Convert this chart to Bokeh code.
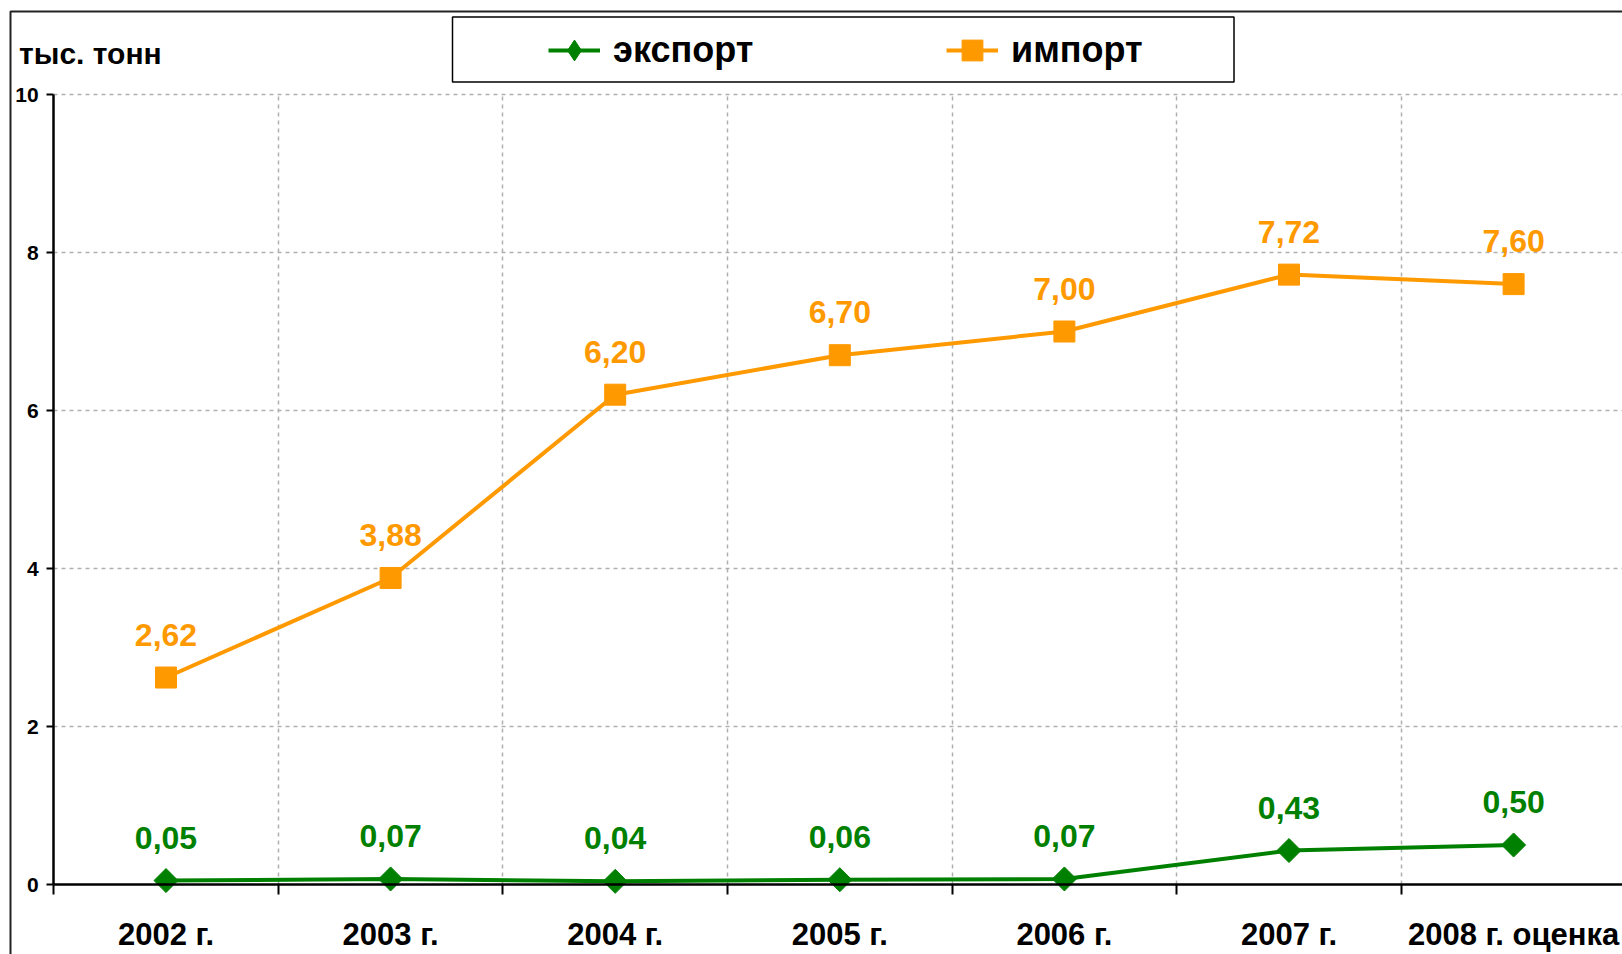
from bokeh.plotting import figure
from bokeh.models import (ColumnDataSource, FixedTicker, Legend, LegendItem,
                          BoxAnnotation, Label)
from bokeh.core.properties import value
from bokeh.embed import file_html
from bokeh.resources import INLINE

categories = ["2002 г.", "2003 г.", "2004 г.", "2005 г.", "2006 г.", "2007 г.", "2008 г. оценка"]
export_vals = [0.05, 0.07, 0.04, 0.06, 0.07, 0.43, 0.50]
import_vals = [2.62, 3.88, 6.20, 6.70, 7.00, 7.72, 7.60]
y_ticks = [0, 2, 4, 6, 8, 10]
series_names = ["экспорт", "импорт"]
y_title = "тыс. тонн"

GREEN = "#008000"
ORANGE = "#FF9900"
FONT = "Liberation Sans"

W, H = 1622, 954
CAT_PX = 224.6          # pixels per category
Y_PX = 79.0             # pixels per unit on y
XS = -0.5 - 53.2 / CAT_PX
YE = 10 + 94 / Y_PX
def xd(px): return XS + px / CAT_PX
def yd(py): return YE - py / Y_PX

xs = list(range(len(categories)))
fmt = lambda v: f"{v:.2f}".replace(".", ",")

src_e = ColumnDataSource(dict(x=xs, y=export_vals, t=[fmt(v) for v in export_vals]))
src_i = ColumnDataSource(dict(x=xs, y=import_vals, t=[fmt(v) for v in import_vals]))

p = figure(width=W, height=H, output_backend="svg", toolbar_location=None,
           x_range=(XS, xd(W)), y_range=(yd(H), YE),
           min_border_left=0, min_border_right=0, min_border_top=0,
           min_border_bottom=0)
p.outline_line_color = None
p.background_fill_color = "white"
p.border_fill_color = "white"

# outer chart border and legend box
p.add_layout(BoxAnnotation(left=xd(10), right=xd(W + 50), top=yd(11), bottom=yd(H + 50),
                           fill_alpha=0, line_color="#222222", line_alpha=1, line_width=2))
p.add_layout(BoxAnnotation(left=xd(452), right=xd(1233.5), top=yd(16.5), bottom=yd(81.5),
                           fill_alpha=0, line_color="black", line_alpha=1, line_width=1.5))

# axes
boundaries = [i - 0.5 for i in range(len(categories) + 1)]
nx = len(categories)
p.xaxis.fixed_location = 0
p.xaxis.bounds = (-0.5, nx + 1)
p.xaxis.ticker = FixedTicker(ticks=xs, minor_ticks=boundaries)
p.xaxis.major_label_overrides = {i: c for i, c in enumerate(categories)}
p.xaxis.major_tick_out = 0
p.xaxis.major_tick_in = 0
p.xaxis.minor_tick_out = 10
p.xaxis.minor_tick_in = 0
p.xaxis.minor_tick_line_color = "black"
p.xaxis.minor_tick_line_width = 2
p.xaxis.axis_line_color = "black"
p.xaxis.axis_line_width = 2.5
p.xaxis.major_label_text_font = FONT
p.xaxis.major_label_text_font_style = "bold"
p.xaxis.major_label_text_font_size = "31px"
p.xaxis.major_label_text_color = "black"
p.xaxis.major_label_standoff = 22

p.yaxis.fixed_location = -0.5
p.yaxis.bounds = (0, 10)
p.yaxis.ticker = FixedTicker(ticks=y_ticks)
p.yaxis.major_tick_out = 7
p.yaxis.major_tick_in = 0
p.yaxis.major_tick_line_width = 2
p.yaxis.major_tick_line_color = "black"
p.yaxis.minor_tick_line_color = None
p.yaxis.axis_line_color = "black"
p.yaxis.axis_line_width = 2.5
p.yaxis.major_label_text_font = FONT
p.yaxis.major_label_text_font_style = "bold"
p.yaxis.major_label_text_font_size = "21px"
p.yaxis.major_label_text_color = "black"
p.yaxis.major_label_standoff = 8

xg, yg = p.xgrid[0], p.ygrid[0]
xg.ticker = FixedTicker(ticks=boundaries[1:])
yg.ticker = FixedTicker(ticks=y_ticks[1:])
if "cross_bounds" in xg.properties():
    xg.cross_bounds = (0, 10)
    yg.cross_bounds = (-0.5, nx + 1)
for g in (xg, yg):
    g.grid_line_color = "#b0b0b0"
    g.grid_line_dash = "4 4"
    g.grid_line_width = 1.5

# series
le = p.line("x", "y", source=src_e, line_color=GREEN, line_width=4)
me = p.scatter("x", "y", source=src_e, marker="square", angle=0.785398, size=17,
               fill_color=GREEN, line_color=GREEN)
li = p.line("x", "y", source=src_i, line_color=ORANGE, line_width=4)
mi = p.scatter("x", "y", source=src_i, marker="square", size=21,
               fill_color=ORANGE, line_color=ORANGE)
# hidden diamond renderer used only for the legend swatch (swatches ignore angle)
me_leg = p.scatter("x", "y", source=src_e, marker="diamond", fill_color=GREEN,
                   line_color=GREEN, visible=False)

for src, col in ((src_e, GREEN), (src_i, ORANGE)):
    p.text("x", "y", text="t", source=src, text_color=col,
           text_font=value(FONT), text_font_style="bold", text_font_size="32px",
           text_align="center", text_baseline="middle", y_offset=-43)

legend = Legend(items=[LegendItem(label=series_names[0], renderers=[le, me_leg]),
                       LegendItem(label=series_names[1], renderers=[li, mi])],
                orientation="horizontal", location=(548, H - 78),
                padding=0, margin=0, spacing=124, glyph_width=52, glyph_height=56,
                label_standoff=13, label_width=209, label_height=40,
                border_line_alpha=0, background_fill_alpha=0, inactive_fill_alpha=0,
                label_text_font=FONT, label_text_font_style="bold",
                label_text_font_size="36px", label_text_color="black")
p.add_layout(legend, "center")

p.add_layout(Label(x=xd(18.6), y=yd(53), text=y_title,
                   text_font=FONT, text_font_style="bold", text_font_size="30px",
                   text_color="black", text_baseline="middle", text_align="left"))

open("out.html", "w").write(file_html(p, INLINE))
